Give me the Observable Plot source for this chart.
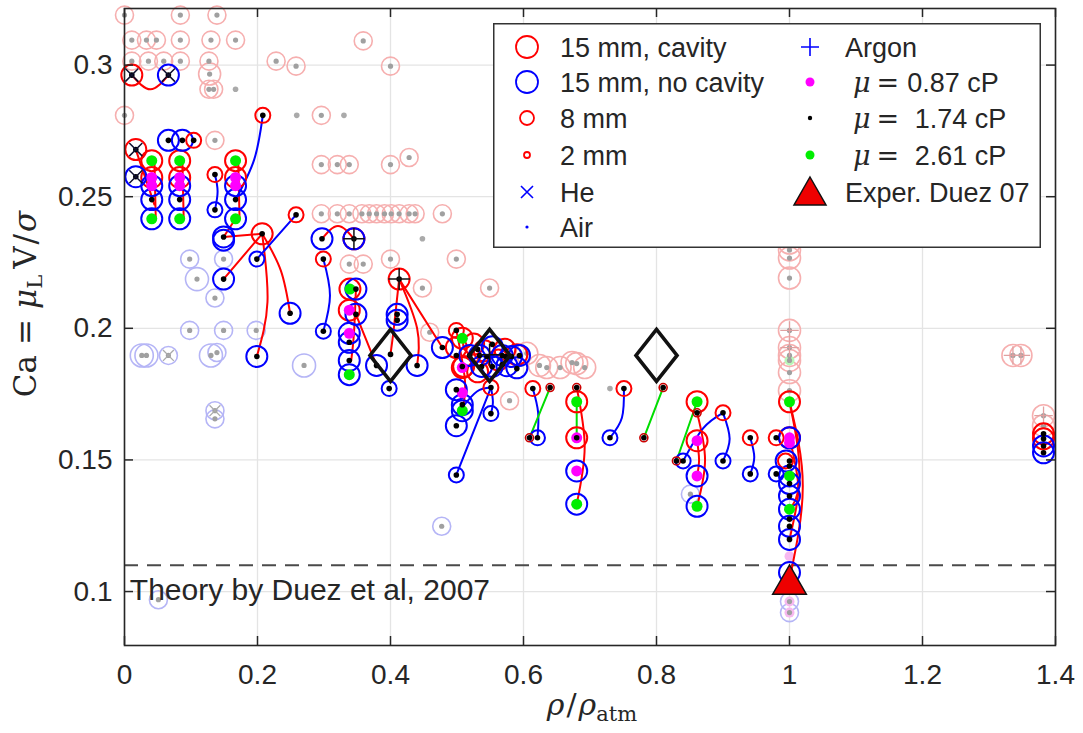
<!DOCTYPE html>
<html><head><meta charset="utf-8">
<script src="https://cdn.jsdelivr.net/npm/d3@7"></script>
<script src="https://cdn.jsdelivr.net/npm/@observablehq/plot@0.6"></script>
<style>
body{margin:0;background:#fff;}
#wrap{position:relative;width:1083px;height:733px;font-family:"Liberation Sans",Arial,Helvetica,sans-serif;}
#legend{position:absolute;left:493px;top:23px;}
</style></head><body><div id="wrap"></div>
<script>
// ---------- axis ticks & reference values ----------
const xTicks = [0, 0.2, 0.4, 0.6, 0.8, 1, 1.2, 1.4];
const yTicks = [0.1, 0.15, 0.2, 0.25, 0.3];
const theoryCa = 0.11;
const theoryLabel = "Theory by Duez et al, 2007";
const theoryLabelPos = [0.008, 0.1005];

// ---------- faint (background) measurements ----------
const fadedRed = [
  [0.0,0.319],[0.084,0.319],[0.139,0.319],
  [0.011,0.3095],[0.033,0.3095],[0.048,0.3095],[0.084,0.3095],[0.130,0.3095],[0.167,0.3095],
  [0.011,0.3015],[0.036,0.3015],[0.059,0.3015],[0.084,0.3015],[0.127,0.3015],
  [0.127,0.2908],[0.134,0.2908],[0.228,0.3015],[0.258,0.2996],
  [0.0,0.2809],[0.296,0.2809],[0.136,0.2714],
  [0.296,0.2622],[0.320,0.2622],[0.338,0.2622],[0.400,0.2622],[0.428,0.2649],
  [0.359,0.3092],[0.400,0.2996],
  [0.296,0.2435],[0.320,0.2435],[0.338,0.2435],[0.357,0.2435],[0.368,0.2435],[0.379,0.2435],
  [0.391,0.2435],[0.401,0.2435],[0.413,0.2435],[0.428,0.2435],[0.437,0.2435],[0.478,0.2435],
  [0.338,0.2244],[0.359,0.2244],[0.400,0.2263],[0.499,0.2263],
  [0.448,0.2153],[0.549,0.2153],[0.459,0.1985],
  [0.579,0.1725]
];
const fadedRedBig = [
  [0.128,0.2966],
  [0.605,0.1905],[0.624,0.1859],[0.635,0.1851],[0.655,0.1851],[0.673,0.1870],[0.680,0.1866],[0.692,0.1851],
  [1.0,0.1897],
  [1.0,0.2347],[1.0,0.2324],[1.0,0.2298],[1.0,0.2267],[1.0,0.2191],[1.0,0.1992],[1.0,0.1927],
  [1.0,0.1878],[1.0,0.1832],[1.0,0.1763],
  [1.336,0.1897],[1.348,0.1897],[1.382,0.1668],[1.382,0.1630]
];
const fadedBlue = [
  [0.098,0.2263],[0.149,0.2263],[0.136,0.2115],[0.098,0.1992],[0.149,0.1992],[0.198,0.1992],
  [0.066,0.1897],[0.139,0.1908],[0.136,0.1687],[0.136,0.1656],
  [0.051,0.0969],[0.477,0.1248],[0.851,0.1370],[1.0,0.0962],[1.0,0.0920]
];
const fadedBlueBig = [
  [0.109,0.2187],[0.026,0.1897],[0.033,0.1897],[0.130,0.1897],[0.270,0.1859]
];
const grayOnly = [[0.167,0.2908],[0.259,0.2809],[0.330,0.2809],[0.448,0.2340],[0.730,0.1771]];
const fadedPink = [[1.0,0.1134],[1.0,0.0962],[1.0,0.0920]];
const fadedGreen = [[1.0,0.1878]];
const fadedHe = [[0.066,0.1897],[0.136,0.1687]];
const fadedAr = [[1.336,0.1897],[1.348,0.1897],[1.0,0.1992],[1.0,0.1927],[1.382,0.1668]];

// ---------- main measurements ----------
const cavity15 = [
  [0.011,0.2962],[0.017,0.2679],
  [0.041,0.2637],[0.041,0.2573],[0.083,0.2637],[0.083,0.2573],[0.167,0.2637],[0.167,0.2573],
  [0.207,0.2359],[0.345,0.2340],[0.339,0.2149],[0.338,0.2069],[0.413,0.2187],
  [0.508,0.1962],[0.499,0.1927],[0.525,0.1940],[0.541,0.1915],[0.572,0.1920],[0.510,0.1855],
  [0.531,0.1835],[0.508,0.1851],[0.562,0.1880],[0.590,0.1900],
  [0.680,0.1721],[0.680,0.1584],[0.861,0.1721],[0.861,0.1573],
  [1.0,0.1721],[1.0,0.1584],[1.382,0.1599],[1.382,0.1580]
];
const noCavity15 = [
  [0.066,0.2962],[0.017,0.2576],[0.066,0.2714],[0.087,0.2714],
  [0.041,0.2542],[0.041,0.2489],[0.041,0.2416],[0.083,0.2542],[0.083,0.2489],[0.083,0.2416],
  [0.167,0.2542],[0.167,0.2489],[0.167,0.2416],
  [0.149,0.2347],[0.149,0.2335],[0.149,0.2187],[0.199,0.1893],[0.249,0.2057],
  [0.297,0.2340],[0.345,0.2340],
  [0.348,0.2149],[0.348,0.2053],[0.338,0.1981],[0.338,0.1947],[0.338,0.1878],[0.338,0.1824],
  [0.379,0.1859],[0.410,0.2053],[0.410,0.2031],[0.440,0.1859],[0.478,0.1927],
  [0.519,0.1897],[0.534,0.1897],[0.553,0.1930],[0.568,0.1897],[0.582,0.1893],[0.594,0.1897],
  [0.537,0.1855],[0.553,0.1855],[0.575,0.1858],[0.590,0.1850],
  [0.499,0.1767],[0.499,0.1630],[0.508,0.1710],[0.508,0.1687],
  [0.680,0.1458],[0.680,0.1332],[0.861,0.1439],[0.861,0.1324],
  [1.0,0.1584],[1.0,0.1439],[1.0,0.1410],[1.0,0.1363],[1.0,0.1313],[1.0,0.1248],[1.0,0.1198],
  [0.995,0.1496],[1.0,0.1072],
  [1.382,0.1553],[1.382,0.1527]
];
const red8mm = [
  [0.104,0.2714],[0.136,0.2584],[0.208,0.2809],[0.258,0.2431],[0.299,0.2263],[0.499,0.1992],
  [0.551,0.1775],[0.614,0.1771],[0.751,0.1771],[0.900,0.1679],[0.941,0.1584],[0.980,0.1584],[0.994,0.1496]
];
const blue8mm = [
  [0.136,0.2450],[0.199,0.2263],[0.299,0.1989],[0.398,0.1771],[0.551,0.1676],[0.621,0.1584],
  [0.730,0.1584],[0.840,0.1496],[0.900,0.1496],[0.941,0.1447],[0.980,0.1447],[0.499,0.1443]
];
const red2mm = [
  [0.640,0.1775],[0.680,0.1775],[0.810,0.1775],[0.861,0.1679],[0.609,0.1584],[0.781,0.1584],[0.830,0.1496]
];
const mu087 = [
  [0.041,0.2573],[0.041,0.2542],[0.083,0.2573],[0.083,0.2542],[0.167,0.2573],[0.167,0.2542],
  [0.338,0.2069],[0.338,0.1981],[0.508,0.1851],[0.508,0.1755],
  [0.680,0.1584],[0.680,0.1458],[0.861,0.1573],[0.861,0.1439],[1.0,0.1584],[1.0,0.1565]
];
const mu174 = [
  [0.011,0.2962],[0.066,0.2962],[0.017,0.2679],[0.017,0.2576],
  [0.066,0.2714],[0.087,0.2714],[0.104,0.2714],
  [0.041,0.2489],[0.083,0.2489],[0.167,0.2489],
  [0.136,0.2584],[0.136,0.2450],[0.208,0.2809],
  [0.149,0.2347],[0.149,0.2187],[0.207,0.2359],[0.199,0.2263],[0.258,0.2431],[0.199,0.1893],[0.249,0.2057],
  [0.297,0.2340],[0.345,0.2340],[0.299,0.2263],[0.299,0.1989],
  [0.348,0.2149],[0.348,0.2053],[0.338,0.1947],[0.338,0.1878],
  [0.379,0.1859],[0.410,0.2053],[0.410,0.2031],[0.400,0.1901],[0.398,0.1771],
  [0.413,0.2187],[0.440,0.1859],[0.478,0.1927],
  [0.499,0.1992],[0.499,0.1897],[0.519,0.1897],[0.534,0.1897],[0.553,0.1939],[0.568,0.1897],[0.594,0.1897],
  [0.508,0.1855],[0.537,0.1855],[0.553,0.1855],[0.568,0.1862],[0.590,0.1847],[0.531,0.1920],
  [0.545,0.1893],[0.582,0.1893],[0.573,0.1893],
  [0.508,0.1710],[0.499,0.1767],[0.499,0.1630],[0.499,0.1443],[0.551,0.1775],[0.551,0.1676],
  [0.614,0.1771],[0.640,0.1775],[0.609,0.1584],[0.621,0.1584],
  [0.680,0.1775],[0.680,0.1584],[0.751,0.1771],[0.730,0.1584],[0.810,0.1775],[0.781,0.1584],
  [0.861,0.1679],[0.830,0.1496],[0.840,0.1496],[0.900,0.1679],[0.900,0.1496],[0.941,0.1584],[0.941,0.1447],
  [0.980,0.1584],[0.980,0.1447],
  [1.0,0.1496],[1.0,0.1477],[1.0,0.1410],[1.0,0.1363],[1.0,0.1275],[1.0,0.1248],[1.0,0.1198],
  [1.382,0.1599],[1.382,0.1580],[1.382,0.1553],[1.382,0.1527]
];
const mu261 = [
  [0.041,0.2637],[0.041,0.2416],[0.083,0.2637],[0.083,0.2416],[0.167,0.2637],[0.167,0.2416],
  [0.339,0.2149],[0.338,0.1824],[0.508,0.1962],[0.508,0.1687],
  [0.680,0.1721],[0.680,0.1332],[0.861,0.1721],[0.861,0.1324],[1.0,0.1721],[1.0,0.1439],[1.0,0.1313]
];
const helium = [[0.011,0.2962],[0.066,0.2962],[0.017,0.2679],[0.017,0.2576]];
const argon = [[0.345,0.2340],[0.413,0.2187],[0.549,0.1900]];
const diamondsRef = [[0.400,0.1897],[0.549,0.1897],[0.800,0.1897]];
const duezExp = [[1.0,0.1027]];

// ---------- connecting curves (fitted runs) ----------
const redRuns = [
  [[0.011,0.2962],[0.039,0.2908],[0.066,0.2962]],
  [[0.017,0.2679],[0.045,0.2470]],
  [[0.045,0.2637],[0.047,0.2416]],
  [[0.087,0.2637],[0.089,0.2416]],
  [[0.171,0.2637],[0.173,0.2416]],
  [[0.167,0.2416],[0.149,0.2347]],
  [[0.149,0.2347],[0.207,0.2359]],
  [[0.149,0.2187],[0.207,0.2359]],
  [[0.207,0.2359],[0.215,0.2100],[0.199,0.1893]],
  [[0.207,0.2359],[0.235,0.2220],[0.249,0.2057]],
  [[0.297,0.2340],[0.321,0.2389],[0.345,0.2340]],
  [[0.348,0.2053],[0.379,0.1859]],
  [[0.348,0.2149],[0.345,0.1980],[0.341,0.1878]],
  [[0.413,0.2187],[0.440,0.2000],[0.440,0.1859]],
  [[0.413,0.2187],[0.478,0.1927]],
  [[0.413,0.2187],[0.405,0.2000],[0.400,0.1901]],
  [[0.499,0.1992],[0.512,0.1800],[0.508,0.1687]],
  [[0.680,0.1775],[0.692,0.1550],[0.680,0.1332]],
  [[0.861,0.1679],[0.873,0.1500],[0.861,0.1324]],
  [[0.861,0.1573],[0.864,0.1500],[0.861,0.1439]],
  [[1.0,0.1721],[1.020,0.1400],[1.0,0.1045]],
  [[1.0,0.1721],[1.015,0.1450],[1.0,0.1198]],
  [[1.0,0.1584],[1.013,0.1400],[1.0,0.1313]]
];
const blueRuns = [
  [[0.167,0.2489],[0.195,0.2641],[0.208,0.2809]],
  [[0.136,0.2584],[0.140,0.2520],[0.136,0.2450]],
  [[0.199,0.2263],[0.258,0.2431]],
  [[0.299,0.2263],[0.309,0.2125],[0.299,0.1989]],
  [[0.499,0.1443],[0.551,0.1775]],
  [[0.551,0.1775],[0.554,0.1720],[0.551,0.1676]],
  [[0.508,0.1700],[0.530,0.1760],[0.551,0.1775]],
  [[0.614,0.1771],[0.622,0.1680],[0.621,0.1584]],
  [[0.751,0.1771],[0.748,0.1660],[0.730,0.1584]],
  [[0.900,0.1679],[0.870,0.1620],[0.840,0.1496]],
  [[0.900,0.1679],[0.910,0.1580],[0.900,0.1496]],
  [[0.941,0.1584],[0.947,0.1510],[0.941,0.1447]]
];
const greenRuns = [
  [[0.640,0.1775],[0.609,0.1584]],
  [[0.680,0.1721],[0.680,0.1584]],
  [[0.810,0.1775],[0.781,0.1584]],
  [[0.861,0.1721],[0.830,0.1496]]
];

// ---------- legend entries ----------
const legendLeft = [
  {label:"15 mm, cavity", sym:"ring", color:"#ff0000", r:11},
  {label:"15 mm, no cavity", sym:"ring", color:"#0000ff", r:11},
  {label:"8 mm", sym:"ring", color:"#ff0000", r:7},
  {label:"2 mm", sym:"ring", color:"#ff0000", r:3},
  {label:"He", sym:"times", color:"#0000ff"},
  {label:"Air", sym:"dot", color:"#0000ff", r:1.6}
];
const legendRight = [
  {label:"Argon", sym:"plus", color:"#0000ff"},
  {mu:"0.87 cP", sym:"dot", color:"#ff00ff", r:4.5},
  {mu:"\u00a01.74 cP", sym:"dot", color:"#000000", r:2.2},
  {mu:"\u00a02.61 cP", sym:"dot", color:"#00ee00", r:4.5},
  {label:"Exper. Duez 07", sym:"triangle"}
];

// ---------- build ----------
const W = 1083, H = 733, mL = 124, mR = 28, mT = 8, mB = 88;
const innerW = W - mL - mR, innerH = H - mT - mB;
const pt = a => a.map(([x, y]) => ({x, y}));
const runs = (arr) => arr.flatMap((pts, i) => pts.map(([x, y]) => ({x, y, id: i})));
const tallDiamond = {
  draw(ctx, size) {
    const h = Math.sqrt(size / Math.PI), w = h * 0.79;
    ctx.moveTo(0, -h); ctx.lineTo(w, 0); ctx.lineTo(0, h); ctx.lineTo(-w, 0); ctx.closePath();
  }
};
const ink = "#262626";
const faintAll = [...fadedRed, ...fadedRedBig, ...fadedBlue, ...fadedBlueBig];

const chart = Plot.plot({
  width: W, height: H,
  marginLeft: mL, marginRight: mR, marginTop: mT, marginBottom: mB,
  x: {domain: [0, 1.4], label: null},
  y: {domain: [0.0795, 0.3215], label: null},
  style: {fontFamily: "'Liberation Sans', Arial, Helvetica, sans-serif", fontSize: "27px", color: ink, background: "#fff", overflow: "visible"},
  marks: [
    Plot.gridX(xTicks, {stroke: "#e4e4e4", strokeOpacity: 1, strokeWidth: 1.3}),
    Plot.gridY(yTicks, {stroke: "#e4e4e4", strokeOpacity: 1, strokeWidth: 1.3}),
    // faint background
    Plot.dot(pt(fadedRed), {x: "x", y: "y", r: 9, stroke: "#f6afaf", strokeWidth: 1.6}),
    Plot.dot(pt(fadedRedBig), {x: "x", y: "y", r: 11, stroke: "#f6afaf", strokeWidth: 1.6}),
    Plot.dot(pt(fadedBlue), {x: "x", y: "y", r: 9, stroke: "#b5b5f6", strokeWidth: 1.6}),
    Plot.dot(pt(fadedBlueBig), {x: "x", y: "y", r: 11.5, stroke: "#b5b5f6", strokeWidth: 1.6}),
    Plot.dot(pt(fadedPink), {x: "x", y: "y", r: 5, fill: "#f7b8f0"}),
    Plot.dot(pt(fadedGreen), {x: "x", y: "y", r: 5, fill: "#b8f7b8"}),
    Plot.dot(pt(faintAll), {x: "x", y: "y", r: 2.6, fill: "#a0a0a0"}),
    Plot.dot(pt(grayOnly), {x: "x", y: "y", r: 2.8, fill: "#aaaaaa"}),
    Plot.dot(pt(fadedHe), {x: "x", y: "y", r: 5, symbol: "times", stroke: "#aaaaaa", strokeWidth: 1.3}),
    Plot.dot(pt(fadedAr), {x: "x", y: "y", r: 6, symbol: "plus", stroke: "#e0a0a0", strokeWidth: 1.3}),
    // theory
    Plot.ruleY([theoryCa], {stroke: "#4a4a4a", strokeWidth: 2, strokeDasharray: "14,9"}),
    // connecting runs
    Plot.line(runs(redRuns), {x: "x", y: "y", z: "id", stroke: "#ff0000", strokeWidth: 2, curve: "natural"}),
    Plot.line(runs(blueRuns), {x: "x", y: "y", z: "id", stroke: "#0000ff", strokeWidth: 2, curve: "natural"}),
    Plot.line(runs(greenRuns), {x: "x", y: "y", z: "id", stroke: "#00dd00", strokeWidth: 2, curve: "natural"}),
    // rings
    Plot.dot(pt(cavity15), {x: "x", y: "y", r: 10.5, stroke: "#ff0000", strokeWidth: 2}),
    Plot.dot(pt(noCavity15), {x: "x", y: "y", r: 10.5, stroke: "#0000ff", strokeWidth: 2}),
    Plot.dot(pt(red8mm), {x: "x", y: "y", r: 7.5, stroke: "#ff0000", strokeWidth: 2}),
    Plot.dot(pt(blue8mm), {x: "x", y: "y", r: 7.5, stroke: "#0000ff", strokeWidth: 2}),
    Plot.dot(pt(red2mm), {x: "x", y: "y", r: 4, stroke: "#cc0000", strokeWidth: 1.6}),
    // viscosity dots
    Plot.dot(pt(mu087), {x: "x", y: "y", r: 5.5, fill: "#ff00ff"}),
    Plot.dot(pt(mu261), {x: "x", y: "y", r: 5.5, fill: "#00ee00"}),
    Plot.dot(pt(mu174), {x: "x", y: "y", r: 2.8, fill: "#000000"}),
    // gases
    Plot.dot(pt(helium), {x: "x", y: "y", r: 6, symbol: "times", stroke: "#101030", strokeWidth: 1.5}),
    Plot.dot(pt(argon), {x: "x", y: "y", r: 7, symbol: "plus", stroke: "#101010", strokeWidth: 1.5}),
    // references
    Plot.dot(pt(diamondsRef), {x: "x", y: "y", r: 26, symbol: tallDiamond, stroke: "#111", strokeWidth: 3.6, fill: "none"}),
    Plot.dot(pt(duezExp), {x: "x", y: "y", r: 12.5, symbol: "triangle", fill: "#ee0000", stroke: "#111", strokeWidth: 1.5}),
    Plot.text([theoryLabelPos], {x: d => d[0], y: d => d[1], text: () => theoryLabel, textAnchor: "start", fontSize: 30, fill: ink}),
    // inward ticks on all four sides
    Plot.ruleX(xTicks, {x: d => d, insetTop: innerH - 9, stroke: ink, strokeWidth: 1.5}),
    Plot.ruleX(xTicks, {x: d => d, insetBottom: innerH - 9, stroke: ink, strokeWidth: 1.5}),
    Plot.ruleY(yTicks, {y: d => d, insetRight: innerW - 9, stroke: ink, strokeWidth: 1.5}),
    Plot.ruleY(yTicks, {y: d => d, insetLeft: innerW - 9, stroke: ink, strokeWidth: 1.5}),
    Plot.frame({stroke: ink, strokeWidth: 1.6}),
    Plot.axisX(xTicks, {tickSize: 0, tickPadding: 19, tickFormat: d => String(d), fontSize: 28, label: null}),
    Plot.axisY(yTicks, {tickSize: 0, tickPadding: 12, tickFormat: d => String(d), fontSize: 28, label: null})
  ]
});

const wrap = document.getElementById("wrap");
wrap.appendChild(chart);

// axis titles (math-style text)
const svg = d3.select(chart);
const yl = svg.append("text")
  .attr("transform", "translate(36,304) rotate(-90)")
  .attr("text-anchor", "middle")
  .attr("font-family", "'DejaVu Serif','Liberation Serif',serif")
  .attr("font-size", 31).attr("fill", ink);
yl.append("tspan").text("Ca");
yl.append("tspan").attr("dx", 10).text("=");
yl.append("tspan").attr("dx", 10).attr("font-style", "italic").text("μ");
yl.append("tspan").attr("font-size", 21).attr("dy", 6).text("L");
yl.append("tspan").attr("dy", -6).attr("dx", 6).text("V");
yl.append("tspan").attr("dx", 2).text("/");
yl.append("tspan").attr("dx", 2).attr("font-style", "italic").text("σ");

const xl = svg.append("text")
  .attr("x", 592).attr("y", 715)
  .attr("text-anchor", "middle")
  .attr("font-family", "'DejaVu Serif','Liberation Serif',serif")
  .attr("font-size", 30).attr("fill", ink);
xl.append("tspan").attr("font-style", "italic").text("ρ");
xl.append("tspan").attr("dx", 2).text("/");
xl.append("tspan").attr("dx", 2).attr("font-style", "italic").text("ρ");
xl.append("tspan").attr("font-size", 21).attr("dy", 6).text("atm");

// legend overlay
const LW = 548, LH = 225;
const leg = d3.select(wrap).append("svg").attr("id", "legend").attr("width", LW).attr("height", LH);
leg.append("rect").attr("x", 0.75).attr("y", 0.75).attr("width", LW - 1.5).attr("height", LH - 1.5)
  .attr("fill", "#fff").attr("stroke", "#333").attr("stroke-width", 1.5);
const rowsY = [24, 59, 95, 132, 169, 204];
function drawSym(g, e, cx, cy) {
  if (e.sym === "ring") g.append("circle").attr("cx", cx).attr("cy", cy).attr("r", e.r).attr("fill", "none").attr("stroke", e.color).attr("stroke-width", 1.8);
  else if (e.sym === "dot") g.append("circle").attr("cx", cx).attr("cy", cy).attr("r", e.r).attr("fill", e.color);
  else if (e.sym === "times") g.append("path").attr("d", `M${cx-6},${cy-6}L${cx+6},${cy+6}M${cx-6},${cy+6}L${cx+6},${cy-6}`).attr("stroke", e.color).attr("stroke-width", 1.6);
  else if (e.sym === "plus") g.append("path").attr("d", `M${cx-9},${cy}L${cx+9},${cy}M${cx},${cy-9}L${cx},${cy+9}`).attr("stroke", e.color).attr("stroke-width", 1.6);
  else if (e.sym === "triangle") g.append("path").attr("d", `M${cx},${cy-15}L${cx+16},${cy+13}L${cx-16},${cy+13}Z`).attr("fill", "#ee0000").attr("stroke", "#111").attr("stroke-width", 1.5);
}
legendLeft.forEach((e, i) => {
  drawSym(leg, e, 34, rowsY[i]);
  leg.append("text").attr("x", 67).attr("y", rowsY[i] + 10).attr("font-size", 27).attr("fill", ink).text(e.label);
});
legendRight.forEach((e, i) => {
  drawSym(leg, e, 317, rowsY[i]);
  if (e.mu) {
    const t = leg.append("text").attr("x", 360).attr("y", rowsY[i] + 10).attr("font-size", 27).attr("fill", ink);
    t.append("tspan").attr("font-family", "'DejaVu Serif','Liberation Serif',serif").attr("font-style", "italic").text("μ");
    t.append("tspan").attr("font-family", "'DejaVu Serif','Liberation Serif',serif").attr("dx", 6).text("=");
    t.append("tspan").attr("dx", 8).text(e.mu);
  } else {
    leg.append("text").attr("x", 352).attr("y", rowsY[i] + 10).attr("font-size", 27).attr("fill", ink).text(e.label);
  }
});
</script>
</body></html>
